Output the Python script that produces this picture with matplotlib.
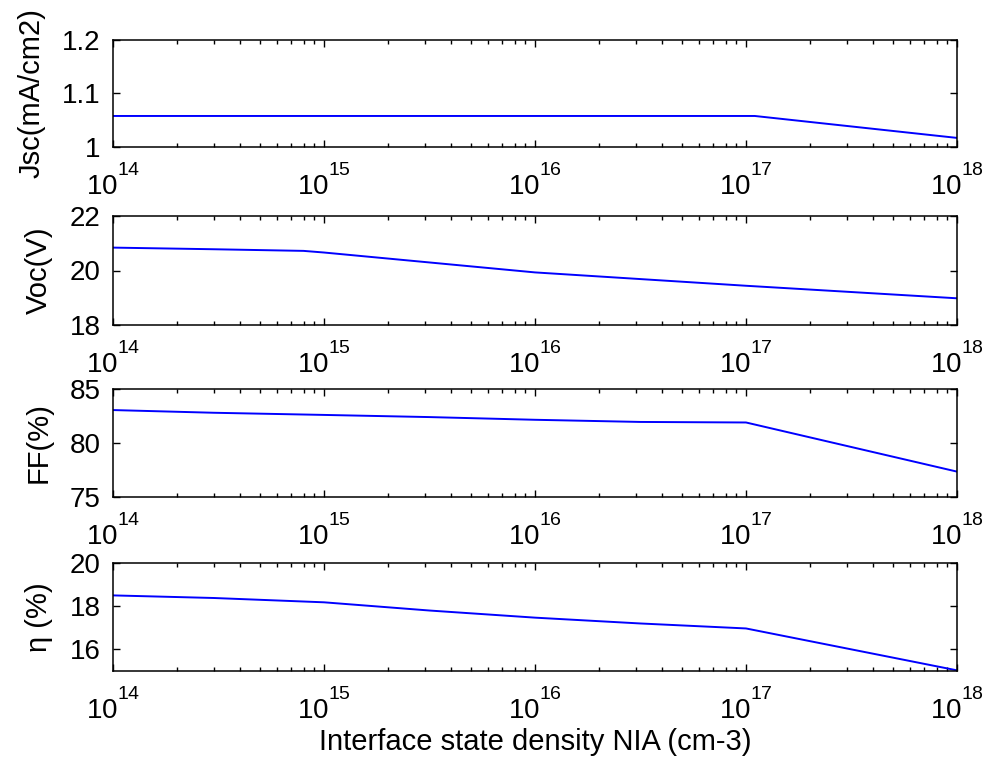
import matplotlib
matplotlib.use("Agg")
import matplotlib.pyplot as plt
from matplotlib.ticker import LogLocator, FixedLocator

try:
    import matplotlib._mathtext as _mt
    _mt.FontConstantsBase.sup1 = 1.3
except Exception:
    pass

plt.rcParams['font.family'] = ['Liberation Sans', 'DejaVu Sans']
plt.rcParams['mathtext.fontset'] = 'custom'
plt.rcParams['mathtext.rm'] = 'Liberation Sans'
plt.rcParams['mathtext.it'] = 'Liberation Sans'
plt.rcParams['mathtext.default'] = 'regular'

# Data
jsc_x = [1e14, 1.1e17, 1e18]
jsc_y = [1.058, 1.058, 1.017]

voc_x = [1e14, 3e14, 8e14, 1e15, 1e16, 1e17, 1e18]
voc_y = [20.84, 20.78, 20.72, 20.66, 19.93, 19.44, 18.98]

ff_x = [1e14, 3e14, 1e15, 3.16e15, 1e16, 3.16e16, 1e17, 1e18]
ff_y = [83.05, 82.8, 82.6, 82.4, 82.15, 81.95, 81.9, 77.35]

eta_x = [1e14, 3e14, 1e15, 3.16e15, 1e16, 3.16e16, 1e17, 1e18]
eta_y = [18.5, 18.38, 18.18, 17.8, 17.47, 17.2, 16.97, 15.03]

ylabels = ['Jsc(mA/cm2)', 'Voc(V)', 'FF(%)', 'η (%)']
ylims = [(1.0, 1.2), (18, 22), (75, 85), (15, 20)]
yticks = [[1.0, 1.1, 1.2], [18, 20, 22], [75, 80, 85], [16, 18, 20]]
yticklabels = [['1', '1.1', '1.2'], ['18', '20', '22'], ['75', '80', '85'], ['16', '18', '20']]
xticks = [1e14, 1e15, 1e16, 1e17, 1e18]
xticklabels = [r'$10^{14}$', r'$10^{15}$', r'$10^{16}$', r'$10^{17}$', r'$10^{18}$']
xlabel = 'Interface state density NIA (cm-3)'

series = [(jsc_x, jsc_y), (voc_x, voc_y), (ff_x, ff_y), (eta_x, eta_y)]

W, H = 987, 763
fig = plt.figure(figsize=(W / 100, H / 100), dpi=100)

left, right = 113, 957
tops = [40, 216, 389, 563]
bottoms = [147, 325, 497, 671]

for i, ((xs, ys), (t, b)) in enumerate(zip(series, zip(tops, bottoms))):
    ax = fig.add_axes([left / W, 1 - b / H, (right - left) / W, (b - t) / H])
    ax.plot(xs, ys, color='#0000ff', lw=1.4)
    ax.set_xscale('log')
    ax.set_xlim(1e14, 1e18)
    ax.set_ylim(*ylims[i])
    ax.set_yticks(yticks[i])
    ax.set_yticklabels(yticklabels[i])
    ax.xaxis.set_major_locator(FixedLocator(xticks))
    ax.set_xticklabels(xticklabels)
    ax.xaxis.set_minor_locator(LogLocator(base=10, subs=range(2, 10), numticks=20))
    ax.tick_params(which='both', direction='in', top=True, right=True,
                   labelsize=20, width=1.0)
    ax.tick_params(axis='y', pad=9)
    ax.tick_params(axis='x', pad=12.5)
    ax.tick_params(which='major', length=5)
    ax.tick_params(which='minor', length=2.8)
    for s in ax.spines.values():
        s.set_linewidth(1.1)
    ax.set_ylabel(ylabels[i], fontsize=21, labelpad=12)
    if i == 3:
        ax.set_xlabel(xlabel, fontsize=21, labelpad=2)

fig.savefig('out.png', dpi=100)
